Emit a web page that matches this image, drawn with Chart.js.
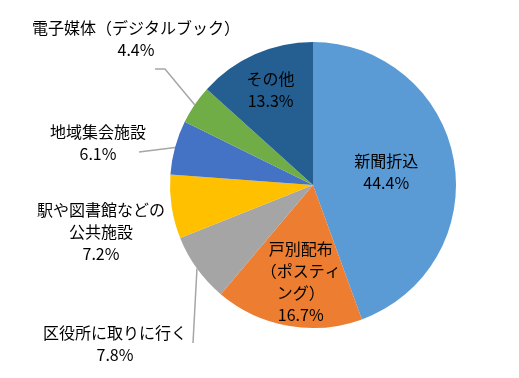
<!DOCTYPE html>
<html>
<head>
<meta charset="utf-8">
<script src="https://cdn.jsdelivr.net/npm/chart.js@4.4.1/dist/chart.umd.min.js"></script>
<style>
    html, body { margin: 0; padding: 0; background: #fff; }
    #wrap { width: 519px; height: 378px; position: relative; }
</style>
</head>
<body>
<div id="wrap"><canvas id="shareChart"></canvas></div>
<script>
const categories = ['新聞折込', '戸別配布（ポスティング）', '区役所に取りに行く', '駅や図書館などの公共施設', '地域集会施設', '電子媒体（デジタルブック）', 'その他'];
const shares = [44.4, 16.7, 7.8, 7.2, 6.1, 4.4, 13.3];
const sliceColors = ['#5B9BD5', '#ED7D31', '#A5A5A5', '#FFC000', '#4472C4', '#70AD47', '#255E91'];

// how each label is wrapped and where it sits
// inside: distance along the slice bisector as a fraction of the radius
// outside: text block centre plus the leader line bend points
const labelLayout = [
    { wrap: [4], inside: 0.52 },
    { wrap: [4, 5, 3], inside: 0.69, dx: 5 },
    { wrap: [9], at: [115, 344], leader: [[193, 343]] },
    { wrap: [8, 4], at: [101, 232] },
    { wrap: [6], at: [98, 143], leader: [[139, 152]] },
    { wrap: [13], at: [136, 39], leader: [[165, 69], [155, 69]] },
    { wrap: [3], inside: 0.73 }
];

const FONT = '16px "Noto Sans CJK JP", "Noto Sans", sans-serif';
const LINE_H = 22;

const splitLines = (text, wrap) => {
    const out = [];
    let i = 0;
    wrap.forEach(n => {
        out.push(text.slice(i, i + n));
        i += n;
    });
    if (i < text.length) out.push(text.slice(i));
    return out;
};

const pieLabels = {
    id: 'pieLabels',
    afterDatasetsDraw(chart) {
        const ctx = chart.ctx;
        const meta = chart.getDatasetMeta(0);
        ctx.save();
        ctx.font = FONT;
        ctx.textAlign = 'center';
        ctx.textBaseline = 'middle';
        meta.data.forEach((arc, i) => {
            const lay = labelLayout[i];
            const mid = (arc.startAngle + arc.endAngle) / 2;
            const cx = arc.x, cy = arc.y, r = arc.outerRadius;
            const lines = splitLines(categories[i], lay.wrap);
            lines.push(shares[i].toFixed(1) + '%');

            let tx, ty;
            if (lay.inside) {
                tx = cx + Math.cos(mid) * r * lay.inside + (lay.dx || 0);
                ty = cy + Math.sin(mid) * r * lay.inside + (lay.dy || 0);
            } else {
                [tx, ty] = lay.at;
            }

            if (lay.leader) {
                ctx.strokeStyle = '#A6A6A6';
                ctx.lineWidth = 1.5;
                ctx.beginPath();
                ctx.moveTo(cx + Math.cos(mid) * r, cy + Math.sin(mid) * r);
                lay.leader.forEach(p => ctx.lineTo(p[0], p[1]));
                ctx.stroke();
            }

            ctx.fillStyle = '#000';
            const top = ty - (lines.length - 1) * LINE_H / 2;
            lines.forEach((line, k) => ctx.fillText(line, tx, top + k * LINE_H));
        });
        ctx.restore();
    }
};

new Chart(document.getElementById('shareChart'), {
    type: 'pie',
    data: {
        labels: categories,
        datasets: [{
            data: shares,
            backgroundColor: sliceColors,
            borderWidth: 0
        }]
    },
    options: {
        responsive: true,
        maintainAspectRatio: false,
        animation: false,
        layout: { padding: { left: 170, right: 63, top: 42, bottom: 50 } },
        plugins: {
            legend: { display: false },
            tooltip: { enabled: false }
        }
    },
    plugins: [pieLabels]
});
</script>
</body>
</html>
